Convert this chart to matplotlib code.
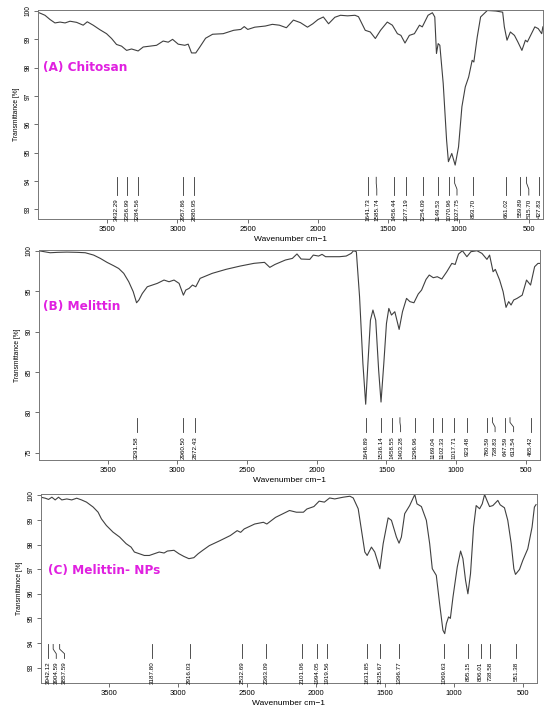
import numpy as np
import matplotlib.pyplot as plt

plt.rcParams['font.family'] = ['Liberation Sans', 'DejaVu Sans']

# (A) Chitosan
wn_a = [3995, 3966, 3943, 3907, 3872, 3836, 3800, 3765, 3718, 3671, 3642, 3600, 3552, 3505,
        3469, 3434, 3398, 3362, 3327, 3280, 3244, 3196, 3149, 3102, 3066, 3035, 2995, 2948,
        2924, 2900, 2870, 2841, 2800, 2750, 2675, 2600, 2550, 2525, 2500, 2450, 2375, 2325,
        2275, 2225, 2175, 2125, 2075, 2037, 2000, 1962, 1925, 1880, 1840, 1790, 1737, 1712,
        1664, 1628, 1592, 1555, 1507, 1471, 1435, 1410, 1381, 1350, 1314, 1278, 1258, 1217,
        1186, 1169, 1157, 1145, 1133, 1109, 1085, 1072, 1048, 1024, 1000, 976, 952, 928,
        903, 891, 867, 843, 795, 734, 686, 674, 655, 631, 602, 578, 549, 524, 510, 481,
        457, 433, 408, 400]
tr_a = [99.96, 99.9, 99.85, 99.7, 99.58, 99.61, 99.58, 99.64, 99.6, 99.5, 99.62, 99.5, 99.34, 99.2,
        99.03, 98.82, 98.76, 98.61, 98.66, 98.59, 98.73, 98.76, 98.79, 98.94, 98.9, 99.0, 98.83, 98.79,
        98.83, 98.52, 98.52, 98.73, 99.04, 99.18, 99.2, 99.32, 99.35, 99.45, 99.35, 99.43, 99.47, 99.53,
        99.5, 99.41, 99.68, 99.59, 99.43, 99.55, 99.7, 99.79, 99.55, 99.78, 99.85, 99.83, 99.85, 99.8,
        99.32, 99.26, 99.03, 99.32, 99.61, 99.5, 99.2, 99.14, 98.87, 99.14, 99.2, 99.5, 99.44, 99.85,
        99.94, 99.79, 98.5, 98.85, 98.79, 97.44, 95.44, 94.68, 94.97, 94.56, 95.2, 96.62, 97.32, 97.67,
        98.26, 98.2, 99.08, 99.79, 100.02, 100.0, 99.96, 99.44, 98.97, 99.26, 99.14, 98.91, 98.61, 98.97, 98.91, 99.2,
        99.44, 99.38, 99.2, 99.44]
peaks_a = ['3432.29', '3356.99', '3284.56', '2957.86', '2880.95', '1641.73', '1585.74', '1456.44',
           '1377.19', '1254.09', '1149.53', '1070.96', '1027.75', '893.70', '661.02', '559.89',
           '515.70', '427.83']

# (B) Melittin
wn_b = [3995, 3962, 3913, 3860, 3793, 3720, 3661, 3601, 3553, 3505, 3457, 3421, 3385, 3349,
        3317, 3293, 3276, 3252, 3216, 3180, 3144, 3096, 3060, 3024, 2988, 2957, 2940, 2916,
        2892, 2868, 2837, 2750, 2650, 2550, 2450, 2375, 2337, 2300, 2225, 2175, 2142, 2112,
        2050, 2025, 1987, 1962, 1937, 1875, 1837, 1789, 1753, 1736, 1716, 1693, 1669, 1649,
        1633, 1615, 1597, 1577, 1556, 1539, 1519, 1500, 1483, 1464, 1440, 1409, 1385, 1356,
        1332, 1303, 1272, 1248, 1216, 1193, 1164, 1135, 1103, 1067, 1031, 1007, 983, 955,
        923, 894, 851, 815, 779, 760, 735, 719, 688, 663, 642, 623, 606, 587, 563, 526,
        495, 466, 437, 413, 394]
tr_b = [100.0, 99.9, 99.75, 99.8, 99.83, 99.8, 99.75, 99.46, 99.05, 98.56, 98.14, 97.8, 97.2, 96.16,
        94.93, 93.56, 93.9, 94.7, 95.54, 95.75, 95.96, 96.37, 96.16, 96.37, 95.96, 94.5, 95.13, 95.34,
        95.75, 95.54, 96.58, 97.2, 97.7, 98.1, 98.44, 98.56, 97.94, 98.3, 98.85, 99.05, 99.6, 98.97,
        98.93, 99.46, 99.34, 99.55, 99.26, 99.26, 99.26, 99.34, 99.67, 100.0, 99.88, 94.3, 86.05, 81.0,
        86.05, 91.4, 92.66, 91.4, 85.2, 81.27, 86.05, 91.0, 92.86, 92.04, 92.45, 90.26, 92.45, 94.1,
        93.7, 93.56, 94.64, 95.13, 96.45, 96.99, 96.66, 96.78, 96.5, 97.4, 98.43, 98.3, 99.59, 100.0,
        99.26, 99.88, 100.0, 99.67, 98.93, 99.46, 97.4, 97.69, 96.37, 94.93, 92.99, 93.7, 93.28, 93.9, 94.1, 94.5,
        96.37, 95.75, 98.02, 98.43, 98.43]
peaks_b = ['3291.58', '2960.50', '2872.43', '1646.89', '1536.14', '1458.55', '1403.28', '1296.96',
           '1169.04', '1102.33', '1017.71', '923.48', '780.59', '738.83', '647.59', '613.54', '465.42']

# (C) Melittin- NPs
wn_c = [3993, 3962, 3938, 3914, 3890, 3866, 3842, 3806, 3770, 3734, 3699, 3663, 3615, 3579,
        3555, 3519, 3471, 3423, 3376, 3340, 3316, 3280, 3244, 3208, 3172, 3136, 3101, 3077,
        3029, 2993, 2957, 2921, 2885, 2854, 2823, 2773, 2697, 2621, 2571, 2546, 2520, 2444,
        2381, 2356, 2293, 2217, 2192, 2142, 2091, 2066, 2015, 1977, 1939, 1901, 1864, 1830,
        1803, 1754, 1730, 1694, 1670, 1646, 1629, 1598, 1574, 1537, 1513, 1477, 1453, 1417,
        1398, 1381, 1357, 1321, 1284, 1268, 1236, 1200, 1176, 1157, 1128, 1104, 1080, 1067,
        1055, 1039, 1026, 1007, 976, 952, 935, 916, 899, 880, 858, 839, 814, 795, 778, 761,
        742, 718, 682, 665, 634, 610, 585, 566, 554, 525, 501, 465, 434, 417, 405]
tr_c = [99.93, 99.89, 99.84, 99.93, 99.82, 99.93, 99.82, 99.86, 99.82, 99.89, 99.82, 99.73, 99.53, 99.32,
        99.05, 98.78, 98.51, 98.31, 98.04, 97.9, 97.7, 97.63, 97.56, 97.56, 97.63, 97.7, 97.66, 97.74,
        97.77, 97.63, 97.52, 97.43, 97.47, 97.63, 97.76, 97.96, 98.16, 98.37, 98.57, 98.5, 98.64, 98.84,
        98.91, 98.84, 99.11, 99.32, 99.39, 99.32, 99.32, 99.45, 99.55, 99.77, 99.73, 99.9, 99.86, 99.9,
        99.93, 99.97, 99.9, 99.46, 98.58, 97.7, 97.56, 97.9, 97.7, 97.02, 98.04, 99.09, 98.99, 98.31,
        98.06, 98.31, 99.26, 99.59, 100.04, 99.66, 99.55, 98.99, 98.04, 97.02, 96.75, 95.6, 94.52, 94.38,
        94.79, 95.06, 95.0, 95.87, 97.09, 97.74, 97.43, 96.55, 96.0, 96.82, 98.71, 99.59, 99.46, 99.66, 100.04, 99.8,
        99.55, 99.59, 99.8, 99.62, 99.5, 98.99, 98.04, 97.02, 96.79, 96.99, 97.36, 97.83, 98.71, 99.53, 99.63]
peaks_c = ['3942.12', '3904.59', '3857.59', '3187.80', '2916.03', '2532.69', '2363.09', '2101.06',
           '1994.05', '1919.56', '1631.85', '1535.67', '1396.77', '1069.63', '895.15', '806.01',
           '738.58', '551.38']

xticks = [3500, 3000, 2500, 2000, 1500, 1000, 500]

fig = plt.figure(figsize=(5.5, 7.07), dpi=100)


def panel(rect, wn, tr, peaks, title, tpos, ylim, yticks, marks):
    ax = fig.add_axes(rect)
    ax.plot(wn, tr, color='#404040', lw=0.8)
    ax.set_xlim(3995, 398)
    ax.set_ylim(*ylim)
    ax.set_xticks(xticks)
    ax.set_yticks(yticks)
    ax.tick_params(direction='out', length=3, width=0.6, color='#555555', labelsize=5.5, pad=2)
    ax.tick_params(axis='y', labelsize=4.8, pad=1.5)
    plt.setp(ax.get_yticklabels(), rotation=90, va='center')
    for s in ax.spines.values():
        s.set_color('#777777')
        s.set_linewidth(0.7)
    ax.set_xlabel('Wavenumber cm\u22121', fontsize=6, labelpad=2)
    ax.set_ylabel('Transmittance [%]', fontsize=4.8, labelpad=3)
    ax.text(tpos[0], tpos[1], title, transform=ax.transAxes, color='#e020e0',
            fontsize=8.7, fontweight='bold', family='DejaVu Sans', va='center')

    # peak markers: spread labels that sit too close, bend the line to them
    y_top, y_bot, y_txt = marks
    gap = 60
    prev = None
    for lab in peaks:
        p = float(lab)
        x = p if prev is None else min(p, prev - gap)
        prev = x
        ys = np.linspace(y_top, y_bot, 4)
        ax.plot([p, p, x, x], ys, color='#333333', lw=0.6)
        ax.text(x, y_txt, lab, rotation=90, ha='center', va='top', fontsize=4.5)
    return ax


panel([0.0685, 0.690, 0.919, 0.2956], wn_a, tr_a, peaks_a, '(A) Chitosan', (0.0105, 0.727),
      (92.65, 100.03), range(93, 101), (94.13, 93.5, 93.38))
panel([0.0704, 0.3494, 0.9115, 0.297], wn_b, tr_b, peaks_b, '(B) Melittin', (0.0086, 0.733),
      (74.1, 100.09), range(75, 101, 5), (79.33, 77.6, 76.98))
panel([0.074, 0.0339, 0.9024, 0.267], wn_c, tr_c, peaks_c, '(C) Melittin- NPs', (0.015, 0.598),
      (92.37, 100.05), range(93, 101), (93.94, 93.37, 93.24))

fig.savefig('out.png', dpi=100)
